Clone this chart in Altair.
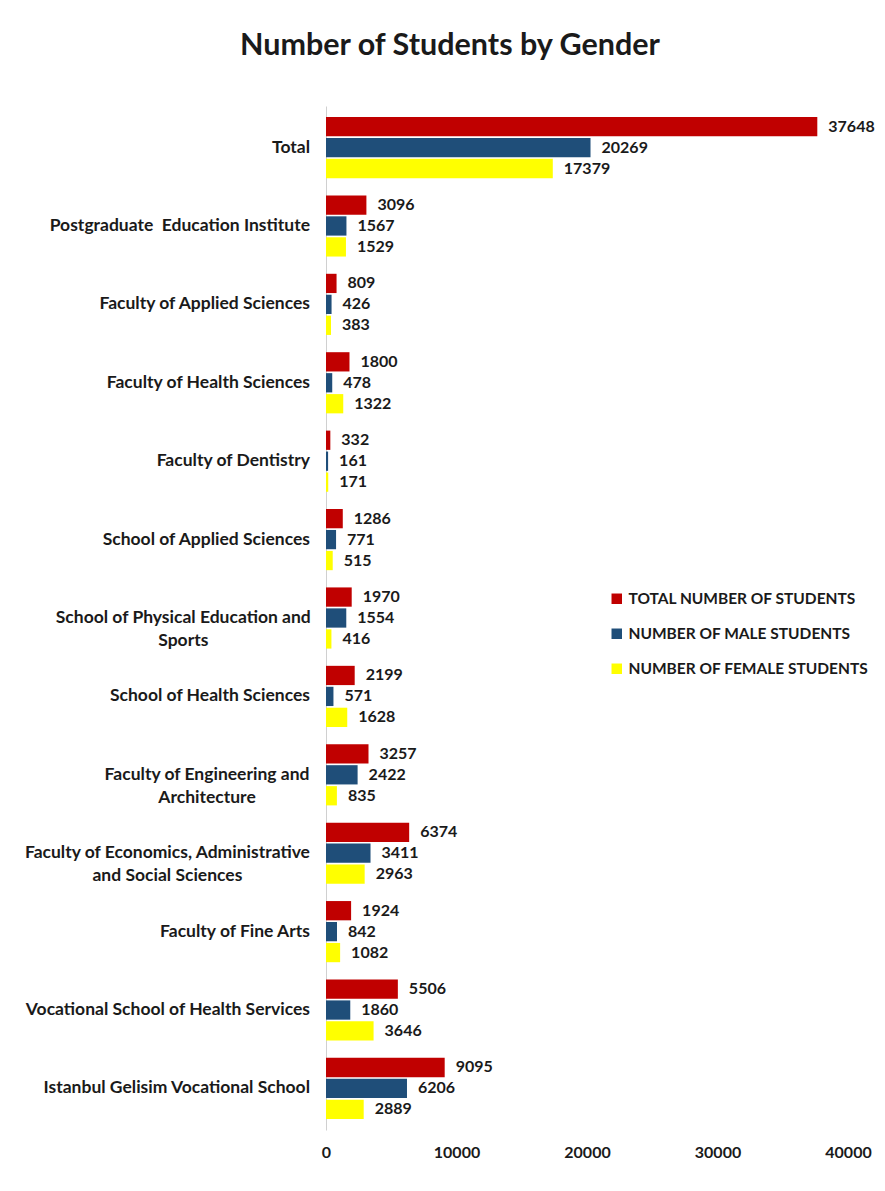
import altair as alt
import pandas as pd

categories = [
    "Total",
    "Postgraduate\u00a0 Education Institute",
    "Faculty of Applied Sciences",
    "Faculty of Health Sciences",
    "Faculty of Dentistry",
    "School of Applied Sciences",
    "School of Physical Education and|Sports",
    "School of Health Sciences",
    "Faculty of Engineering and|Architecture",
    "Faculty of Economics, Administrative|and Social Sciences",
    "Faculty of Fine Arts",
    "Vocational School of Health Services",
    "Istanbul Gelisim Vocational School",
]
total_students = [37648, 3096, 809, 1800, 332, 1286, 1970, 2199, 3257, 6374, 1924, 5506, 9095]
male_students = [20269, 1567, 426, 478, 161, 771, 1554, 571, 2422, 3411, 842, 1860, 6206]
female_students = [17379, 1529, 383, 1322, 171, 515, 416, 1628, 835, 2963, 1082, 3646, 2889]
series = ["TOTAL NUMBER OF STUDENTS", "NUMBER OF MALE STUDENTS", "NUMBER OF FEMALE STUDENTS"]
colors = ["#C00000", "#1F4E79", "#FFFF00"]
x_ticks = [0, 10000, 20000, 30000, 40000]

rows = []
for i, c in enumerate(categories):
    for s, vals in zip(series, [total_students, male_students, female_students]):
        rows.append({"category": c, "series": s, "value": vals[i]})
df = pd.DataFrame(rows)
lab = pd.DataFrame({"category": categories})

FONT = "Lato"
TXT = "#1a1a1a"

y = alt.Y(
    "category:N",
    sort=categories,
    scale=alt.Scale(domain=categories, paddingInner=0.22, paddingOuter=0.14),
    axis=alt.Axis(labels=False, ticks=False, domainColor="#d0d0d0", title=None),
)
yoff = alt.YOffset("series:N", sort=series, scale=alt.Scale(domain=series, paddingInner=0.08))

base = alt.Chart(df).encode(
    x=alt.X(
        "value:Q",
        scale=alt.Scale(domain=[0, 40000], nice=False),
        axis=alt.Axis(
            values=x_ticks, format="d", grid=False, ticks=False, domain=False,
            labelFont=FONT, labelFontWeight="bold", labelFontSize=16,
            labelColor=TXT, labelPadding=14, labelFlush=False, title=None,
        ),
    ),
    y=y,
    yOffset=yoff,
)

bars = base.mark_bar().encode(
    color=alt.Color(
        "series:N",
        sort=series,
        scale=alt.Scale(domain=series, range=colors),
        legend=alt.Legend(
            title=None, orient="none", legendX=283, legendY=485,
            symbolType="square", symbolSize=110, symbolStrokeWidth=0,
            labelFont=FONT, labelFontWeight="bold", labelFontSize=15.5,
            labelColor=TXT, rowPadding=18, labelLimit=400, labelOffset=4,
        ),
    )
)

values = base.mark_text(
    align="left", baseline="middle", dx=11, font=FONT, fontWeight="bold",
    fontSize=16, color=TXT,
).encode(text=alt.Text("value:Q", format="d"))

label_style = dict(baseline="middle", font=FONT, fontWeight="bold", fontSize=17.5, color=TXT)

labels_single = (
    alt.Chart(lab)
    .transform_filter("indexof(datum.category, '|') < 0")
    .mark_text(align="right", **label_style)
    .encode(y=y, x=alt.value(-16), text="category:N")
)

labels_multi = (
    alt.Chart(lab)
    .transform_filter("indexof(datum.category, '|') >= 0")
    .transform_calculate(px="-16 - length(split(datum.category, '|')[0]) * 3.96")
    .mark_text(align="center", lineBreak="|", lineHeight=23, **label_style)
    .encode(y=y, x=alt.X("px:Q", scale=None, axis=None), text="category:N")
)

chart = (
    alt.layer(bars, values, labels_single, labels_multi)
    .properties(
        width=522,
        height=1024,
        autosize="none",
        background="white",
        padding={"left": 318, "top": 98, "right": 29, "bottom": 50},
        title=alt.TitleParams(
            "Number of Students by Gender", font=FONT, fontSize=30.5,
            fontWeight="bold", color=TXT, anchor="middle", dx=-137, offset=45,
        ),
    )
    .configure_view(strokeWidth=0, stroke="transparent")
)

chart.save("out.html", embed_options={"renderer": "svg", "actions": False})
